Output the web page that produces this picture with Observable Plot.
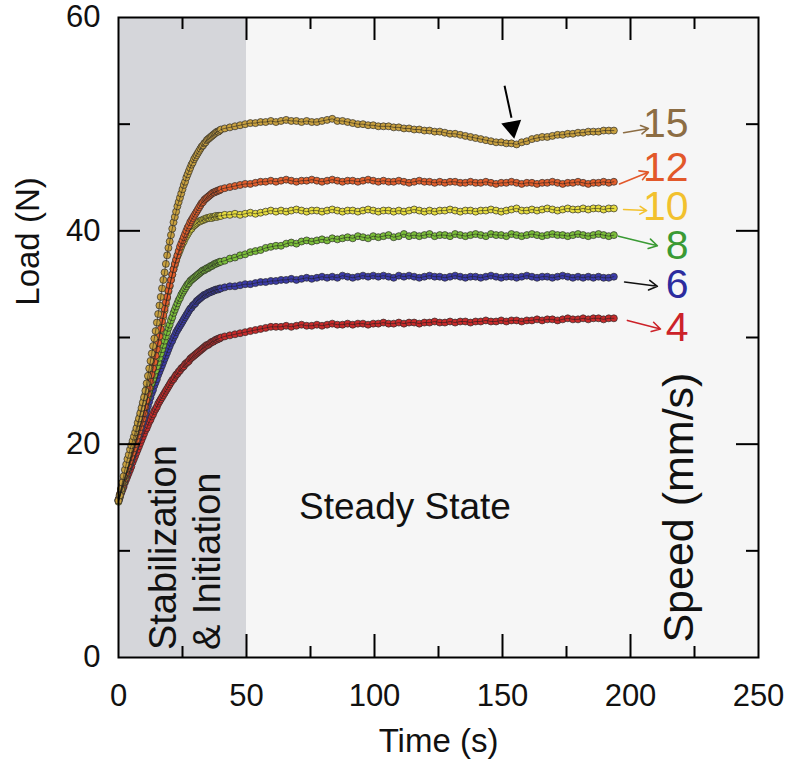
<!DOCTYPE html>
<html><head><meta charset="utf-8">
<script src="https://cdn.jsdelivr.net/npm/d3@7"></script>
<script src="https://cdn.jsdelivr.net/npm/@observablehq/plot@0.6"></script>
<style>html,body{margin:0;padding:0;background:#fff}</style>
</head><body><div id="chart"></div>
<script>
// Time samples (s)
const tEarly = [
  0,0.5,1,1.5,2,2.5,3,3.5,4,4.5,
  5,5.5,6,6.5,7,7.5,8,8.5,9,9.5,
  10,10.5,11,11.5,12,12.5,13,13.5,14,14.5,
  15,15.5,16,16.5,17,17.5,18,18.5,19,19.5,
  20,20.5,21,21.5,22,22.5,23,23.5,24,24.5,
  25,25.5,26,26.5,27,27.5,28,28.5,29,29.5,
  30,30.5,31,31.5,32,32.5,33,33.5,34,34.5,
  35,35.5,36,36.5,37,37.5,38,38.5,39,39.5,
  40];
const tLate = [
  41.5,43.5,45.5,47.5,49.5,51.5,53.5,55.5,57.5,59.5,
  61.5,63.5,65.5,67.5,69.5,71.5,73.5,75.5,77.5,79.5,
  81.5,83.5,85.5,87.5,89.5,91.5,93.5,95.5,97.5,99.5,
  101.5,103.5,105.5,107.5,109.5,111.5,113.5,115.5,117.5,119.5,
  121.5,123.5,125.5,127.5,129.5,131.5,133.5,135.5,137.5,139.5,
  141.5,143.5,145.5,147.5,149.5,151.5,153.5,155.5,157.5,159.5,
  161.5,163.5,165.5,167.5,169.5,171.5,173.5,175.5,177.5,179.5,
  181.5,183.5,185.5,187.5,189.5,191.5,193.5];

// Load (N) per speed
const load15 = [
  14.7,15.2,15.8,16.4,17.0,17.6,18.1,18.6,19.0,19.5,
  19.9,20.3,20.7,21.1,21.5,22.0,22.4,22.9,23.4,23.9,
  24.4,25.0,25.7,26.4,27.1,27.8,28.5,29.2,29.9,30.6,
  31.4,32.2,33.0,33.8,34.6,35.4,36.1,36.9,37.7,38.4,
  39.0,39.6,40.2,40.8,41.3,41.8,42.3,42.7,43.1,43.5,
  43.9,44.3,44.6,45.0,45.3,45.6,45.9,46.2,46.4,46.7,
  46.9,47.1,47.3,47.5,47.7,47.9,48.0,48.2,48.3,48.5,
  48.6,48.7,48.8,48.9,49.0,49.1,49.2,49.3,49.3,49.4,
  49.5,
  49.6,49.7,49.8,49.9,50.0,50.1,50.1,50.2,50.2,50.3,
  50.2,50.3,50.4,50.3,50.3,50.2,50.3,50.2,50.2,50.3,
  50.4,50.5,50.3,50.3,50.2,50.1,50.0,50.0,49.9,49.9,
  49.8,49.8,49.8,49.7,49.7,49.6,49.6,49.5,49.5,49.4,
  49.4,49.3,49.3,49.2,49.1,49.1,49.0,48.9,48.8,48.7,
  48.6,48.5,48.4,48.3,48.3,48.2,48.2,48.1,48.3,48.4,
  48.6,48.7,48.8,48.8,48.9,49.0,49.0,49.1,49.1,49.2,
  49.2,49.3,49.3,49.3,49.4,49.4,49.4];
const load12 = [
  14.8,15.3,15.8,16.2,16.6,17.0,17.3,17.7,18.0,18.4,
  18.8,19.2,19.6,20.0,20.4,20.8,21.2,21.6,22.0,22.4,
  22.9,23.5,24.1,24.7,25.3,25.9,26.5,27.1,27.7,28.3,
  28.9,29.5,30.1,30.8,31.5,32.1,32.7,33.3,33.8,34.4,
  34.9,35.4,35.9,36.4,36.9,37.3,37.7,38.1,38.5,38.8,
  39.1,39.4,39.7,40.0,40.3,40.5,40.8,41.0,41.2,41.4,
  41.6,41.8,42.0,42.2,42.4,42.6,42.7,42.9,43.0,43.1,
  43.2,43.3,43.4,43.5,43.6,43.6,43.7,43.7,43.8,43.8,
  43.9,
  44.0,44.1,44.2,44.3,44.4,44.4,44.5,44.6,44.6,44.7,
  44.6,44.7,44.8,44.7,44.6,44.7,44.7,44.8,44.7,44.6,
  44.7,44.8,44.7,44.6,44.7,44.7,44.6,44.7,44.8,44.7,
  44.6,44.7,44.6,44.6,44.7,44.6,44.5,44.6,44.7,44.6,
  44.6,44.5,44.6,44.5,44.6,44.6,44.5,44.5,44.6,44.5,
  44.5,44.6,44.5,44.4,44.5,44.5,44.6,44.5,44.4,44.5,
  44.5,44.4,44.5,44.5,44.6,44.5,44.4,44.5,44.5,44.6,
  44.5,44.4,44.5,44.5,44.6,44.5,44.6];
const load10 = [
  14.6,15.1,15.6,16.0,16.4,16.8,17.2,17.7,18.1,18.6,
  19.1,19.6,20.1,20.6,21.1,21.7,22.2,22.7,23.2,23.7,
  24.2,24.7,25.2,25.7,26.2,26.7,27.2,27.7,28.2,28.7,
  29.2,29.7,30.2,30.7,31.3,31.9,32.5,33.1,33.7,34.3,
  34.8,35.4,35.9,36.4,36.8,37.2,37.6,37.9,38.2,38.5,
  38.8,39.0,39.3,39.5,39.7,39.9,40.1,40.2,40.4,40.5,
  40.6,40.7,40.8,40.9,40.9,41.0,41.0,41.1,41.1,41.2,
  41.2,41.2,41.3,41.2,41.3,41.3,41.4,41.3,41.4,41.4,
  41.4,
  41.5,41.5,41.6,41.5,41.6,41.7,41.6,41.7,41.8,41.9,
  41.8,41.9,41.8,41.9,42.0,41.9,41.8,41.9,41.9,41.8,
  41.9,42.0,41.9,41.8,41.9,41.9,41.8,41.9,42.0,41.9,
  41.8,41.9,41.9,41.8,41.9,41.8,41.9,42.0,41.9,41.8,
  41.9,41.8,41.9,41.9,42.0,41.9,41.8,41.9,41.9,41.8,
  41.9,41.9,42.0,41.9,41.8,41.9,42.0,42.1,41.9,41.9,
  42.0,41.9,42.0,42.1,42.0,41.9,42.0,42.1,42.0,42.0,
  42.1,42.0,42.1,42.1,42.0,42.1,42.1];
const load8 = [
  14.8,15.2,15.6,16.0,16.4,16.8,17.2,17.6,18.0,18.4,
  18.8,19.2,19.6,20.1,20.5,20.9,21.4,21.8,22.2,22.7,
  23.1,23.5,24.0,24.4,24.8,25.3,25.7,26.1,26.5,26.9,
  27.3,27.7,28.1,28.5,28.9,29.3,29.7,30.1,30.5,30.9,
  31.2,31.6,31.9,32.3,32.6,32.9,33.2,33.5,33.7,34.0,
  34.2,34.4,34.6,34.8,35.0,35.1,35.3,35.4,35.5,35.6,
  35.7,35.8,35.9,36.0,36.1,36.2,36.3,36.3,36.4,36.5,
  36.5,36.6,36.7,36.7,36.8,36.9,36.9,37.0,37.0,37.1,
  37.1,
  37.2,37.4,37.5,37.7,37.8,38.0,38.1,38.2,38.4,38.5,
  38.6,38.6,38.8,38.9,38.8,39.0,39.1,39.0,39.1,39.2,
  39.1,39.3,39.2,39.3,39.4,39.3,39.5,39.4,39.3,39.5,
  39.4,39.5,39.6,39.4,39.5,39.7,39.5,39.6,39.5,39.6,
  39.7,39.5,39.6,39.6,39.5,39.7,39.6,39.5,39.6,39.7,
  39.6,39.5,39.7,39.6,39.6,39.5,39.7,39.6,39.5,39.6,
  39.7,39.6,39.5,39.6,39.7,39.6,39.6,39.5,39.6,39.7,
  39.6,39.5,39.6,39.7,39.6,39.5,39.6];
const load6 = [
  14.7,15.1,15.5,15.9,16.3,16.7,17.0,17.4,17.8,18.1,
  18.5,18.9,19.3,19.7,20.1,20.5,20.9,21.3,21.6,22.0,
  22.4,22.8,23.2,23.6,24.0,24.4,24.8,25.1,25.5,25.8,
  26.1,26.5,26.8,27.1,27.4,27.7,28.0,28.3,28.6,28.9,
  29.2,29.5,29.7,30.0,30.2,30.5,30.7,30.9,31.1,31.3,
  31.5,31.7,31.9,32.1,32.3,32.5,32.7,32.8,33.0,33.1,
  33.2,33.4,33.5,33.6,33.7,33.8,33.9,34.0,34.0,34.1,
  34.2,34.2,34.3,34.3,34.4,34.4,34.5,34.5,34.5,34.6,
  34.6,
  34.7,34.8,34.8,34.9,35.0,35.0,35.1,35.2,35.2,35.3,
  35.3,35.4,35.4,35.5,35.4,35.5,35.6,35.5,35.6,35.7,
  35.6,35.7,35.6,35.8,35.7,35.6,35.7,35.8,35.7,35.8,
  35.7,35.8,35.7,35.6,35.8,35.7,35.8,35.7,35.6,35.7,
  35.8,35.7,35.7,35.6,35.7,35.8,35.7,35.6,35.7,35.7,
  35.6,35.7,35.8,35.7,35.6,35.7,35.7,35.6,35.7,35.8,
  35.7,35.6,35.7,35.7,35.6,35.7,35.8,35.7,35.6,35.7,
  35.6,35.7,35.6,35.7,35.6,35.6,35.7];
const load4 = [
  14.7,15.0,15.4,15.7,16.0,16.4,16.7,17.0,17.3,17.6,
  17.9,18.3,18.6,18.9,19.2,19.5,19.8,20.1,20.4,20.7,
  21.0,21.3,21.5,21.8,22.1,22.3,22.6,22.8,23.1,23.3,
  23.5,23.8,24.0,24.2,24.4,24.6,24.8,25.0,25.2,25.4,
  25.6,25.8,26.0,26.1,26.3,26.5,26.6,26.8,26.9,27.1,
  27.2,27.3,27.5,27.6,27.7,27.8,28.0,28.1,28.2,28.3,
  28.4,28.5,28.6,28.7,28.8,28.9,29.0,29.1,29.2,29.3,
  29.3,29.4,29.5,29.6,29.6,29.7,29.8,29.8,29.9,29.9,
  30.0,
  30.1,30.2,30.3,30.4,30.5,30.6,30.7,30.8,30.9,31.0,
  31.0,31.0,31.1,31.0,31.1,31.2,31.1,31.1,31.2,31.1,
  31.2,31.3,31.2,31.2,31.3,31.2,31.3,31.3,31.2,31.3,
  31.3,31.4,31.3,31.3,31.4,31.3,31.4,31.4,31.3,31.4,
  31.4,31.5,31.4,31.4,31.5,31.4,31.5,31.5,31.4,31.5,
  31.5,31.6,31.5,31.5,31.6,31.5,31.6,31.6,31.5,31.6,
  31.6,31.7,31.6,31.7,31.7,31.6,31.7,31.8,31.7,31.7,
  31.8,31.7,31.8,31.8,31.7,31.8,31.8];

const speeds = ["4","6","8","10","12","15"];
const seriesLoads = [load4, load6, load8, load10, load12, load15];
const dotColors = ["#c92a2a","#3b3baa","#7cbf3a","#e6dc3e","#e35f2c","#c9a13f"];
const labelColors = ["#cc2229","#2c2c9e","#3a9a34","#f2c12e","#e2582a","#8c6d44"];
const arrowColors = ["#cc2229","#111111","#3a9a34","#f2c12e","#e2582a","#8c6d44"];

// Right-hand speed label annotations
const labelLoad = [30.9, 34.9, 38.6, 42.2, 45.9, 50.0];
const arrowT1 = [198.8, 197.7, 195.3, 197.3, 195.7, 197.3];
const arrowL1 = [31.6, 35.2, 39.5, 42.0, 44.4, 49.2];
const arrowT2 = [211.7, 210.5, 210.5, 206.3, 207.0, 207.0];
const arrowL2 = [30.8, 34.8, 38.6, 41.9, 45.5, 49.6];

const xTickLabels = [0, 50, 100, 150, 200, 250];
const yTickLabels = [0, 20, 40, 60];
const xMajor = [50, 100, 150, 200], xMinor = [25, 75, 125, 175, 225];
const yMajor = [20, 40], yMinor = [10, 30, 50];
const phaseStart = [0, 50], phaseEnd = [50, 250];
const phaseFill = ["#d5d6da", "#f6f6f6"];

const time = tEarly.concat(tLate);
const points = [];
seriesLoads.forEach((arr, k) => {
  arr.forEach((v, i) => {
    if (i < time.length) points.push({t: time[i], L: v, speed: speeds[k], fill: dotColors[k]});
  });
});
const phases = phaseStart.map((s, i) => ({x1: s, x2: phaseEnd[i], y1: 0, y2: 60, fill: phaseFill[i]}));
const labels = speeds.map((s, i) => ({
  speed: s, y: labelLoad[i], color: labelColors[i], acolor: arrowColors[i],
  x1: arrowT1[i], y1: arrowL1[i], x2: arrowT2[i], y2: arrowL2[i]
}));
const rotTexts = [
  {text: "Stabilization", x: 22.3, y: 0.7},
  {text: "& Initiation", x: 39.8, y: 0.7}
];
const speedTitle = [{text: "Speed (mm/s)", x: 224.6, y: 1.4}];
const axisTitles = [
  {text: "Load (N)", x: -35.0, y: 39.0, rotate: -90},
  {text: "Time (s)", x: 125, y: -7.9, rotate: 0}
];
const annot = [{x1: 150.8, y1: 53.6, x2: 153.5, y2: 50.6, hx: 153.8, hy: 49.7}];

const H = 640, W = 640;
const FONT = "'Liberation Sans', Arial, Helvetica, sans-serif";

const chart = Plot.plot({
  width: 790, height: 762,
  marginLeft: 118, marginRight: 32, marginTop: 17, marginBottom: 105,
  style: {fontFamily: FONT, background: "#fff", color: "#111"},
  x: {domain: [0, 250], label: null},
  y: {domain: [0, 60], label: null},
  marks: [
    Plot.rect(phases, {x1: "x1", x2: "x2", y1: "y1", y2: "y2", fill: "fill"}),
    Plot.dot(points, {x: "t", y: "L", r: 3.5, fill: "fill", stroke: "#2b2b2b", strokeWidth: 0.7}),
    Plot.line(points, {x: "t", y: "L", z: "speed", stroke: "#1a1a1a", strokeWidth: 1, strokeOpacity: 0.55}),
    Plot.frame({stroke: "#000", strokeWidth: 2}),
    Plot.ruleX(xMajor, {insetTop: H - 23, stroke: "#000", strokeWidth: 2}),
    Plot.ruleX(xMinor, {insetTop: H - 11, stroke: "#000", strokeWidth: 2}),
    Plot.ruleX(xMajor, {insetBottom: H - 23, stroke: "#000", strokeWidth: 2}),
    Plot.ruleX(xMinor, {insetBottom: H - 12, stroke: "#000", strokeWidth: 2}),
    Plot.ruleY(yMajor, {insetRight: W - 22, stroke: "#000", strokeWidth: 2}),
    Plot.ruleY(yMinor, {insetRight: W - 12, stroke: "#000", strokeWidth: 2}),
    Plot.ruleY(yMajor, {insetLeft: W - 22, stroke: "#000", strokeWidth: 2}),
    Plot.ruleY(yMinor, {insetLeft: W - 12, stroke: "#000", strokeWidth: 2}),
    Plot.axisX({ticks: xTickLabels, tickSize: 0, tickPadding: 26, fontSize: 31, label: null, fill: "#111"}),
    Plot.axisY({ticks: yTickLabels, tickSize: 0, tickPadding: 18, fontSize: 31, label: null, fill: "#111"}),
    Plot.text(axisTitles, {x: "x", y: "y", text: "text", rotate: "rotate", fontSize: 33, fill: "#111"}),
    Plot.text(["Steady State"], {x: 111.9, y: 13.0, lineAnchor: "bottom", fontSize: 37, fill: "#111"}),
    Plot.text(rotTexts, {x: "x", y: "y", text: "text", rotate: -90, textAnchor: "start", lineAnchor: "bottom", fontSize: 38, fill: "#111"}),
    Plot.text(speedTitle, {x: "x", y: "y", text: "text", rotate: -90, textAnchor: "start", lineAnchor: "bottom", fontSize: 43, fill: "#111"}),
    Plot.arrow(labels, {x1: "x1", y1: "y1", x2: "x2", y2: "y2", stroke: "acolor", strokeWidth: 1.6, headLength: 9}),
    Plot.text(labels, {x: 222.7, y: "y", text: "speed", textAnchor: "end", fill: "color", fontSize: 41}),
    Plot.link(annot, {x1: "x1", y1: "y1", x2: "x2", y2: "y2", stroke: "#000", strokeWidth: 2}),
    Plot.dot(annot, {x: "hx", y: "hy", symbol: "triangle", rotate: 170, r: 7.5, fill: "#000"})
  ]
});
document.getElementById("chart").appendChild(chart);
</script></body></html>
